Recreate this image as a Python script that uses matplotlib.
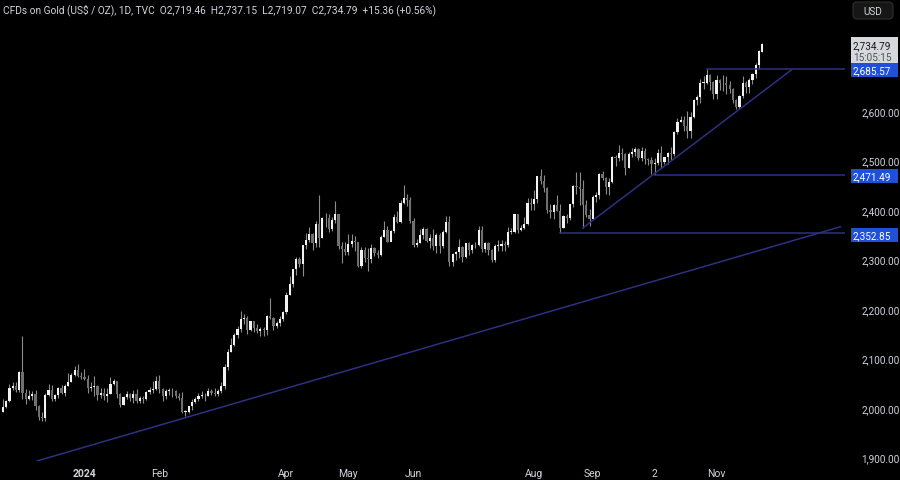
import matplotlib
matplotlib.use('Agg')
import numpy as np
import matplotlib.pyplot as plt
from matplotlib.patches import Rectangle, FancyBboxPatch
from matplotlib.transforms import IdentityTransform

# daily candles, CFDs on Gold, 24 Nov 2023 .. 21 Oct 2024 (bar index = position)
first_open = 1992.0
last_open = 2719.46

highs = [
    2018, 2017, 2048, 2052, 2052, 2075, 2146, 2039, 2036, 2034, 2036, 2006, 1991, 2030, 2048,
    2047, 2028, 2043, 2046, 2048, 2071, 2070, 2084, 2088, 2072,
    # Jan
    2079, 2066, 2052, 2064, 2046, 2040, 2040, 2040, 2062, 2059, 2054, 2031, 2025, 2034, 2030,
    2036, 2038, 2024, 2025, 2035, 2043, 2055,
    # Feb
    2065, 2066, 2041, 2039, 2040, 2040, 2036, 2031, 2032, 1996, 2005, 2019, 2023, 2031, 2034,
    2031, 2041, 2039, 2041, 2038, 2052,
    # Mar
    2088, 2119, 2141, 2152, 2165, 2195, 2189, 2185, 2175, 2174, 2169, 2164, 2163, 2188, 2223,
    2184, 2176, 2185, 2196, 2235,
    # Apr
    2266, 2281, 2305, 2305, 2330, 2354, 2365, 2354, 2378, 2431, 2385, 2394, 2392, 2385, 2418,
    2392, 2335, 2335, 2352, 2351, 2347, 2335,
    # May
    2326, 2326, 2324, 2331, 2326, 2320, 2350, 2378, 2367, 2359, 2392, 2397, 2420, 2450, 2433,
    2426, 2384, 2341, 2362, 2365, 2364, 2351, 2362,
    # Jun
    2354, 2353, 2359, 2388, 2387, 2313, 2318, 2342, 2327, 2333, 2335, 2332, 2336, 2368, 2368,
    2335, 2335, 2322, 2331, 2339,
    # Jul
    2339, 2337, 2365, 2364, 2392, 2392, 2370, 2385, 2424, 2425, 2440, 2469, 2483, 2470, 2446,
    2412, 2412, 2431, 2412, 2390, 2392, 2412, 2451,
    # Aug
    2477, 2477, 2461, 2420, 2401, 2430, 2437, 2475, 2478, 2467, 2464, 2509, 2510, 2531, 2525,
    2515, 2517, 2526, 2528, 2525, 2528, 2525,
    # Sep
    2505, 2507, 2504, 2523, 2529, 2507, 2518, 2528, 2560, 2586, 2590, 2590, 2600, 2597, 2625,
    2632, 2664, 2670, 2685.57, 2674, 2661,
    # Oct
    2673, 2664, 2672, 2670, 2660, 2646, 2625, 2633, 2670, 2660, 2666, 2676, 2696, 2722, 2737.15,
]

lows = [
    1992, 2001, 2012, 2036, 2032, 2033, 2019, 2009, 2016, 2017, 1995, 1975, 1974, 1974, 2024,
    2015, 2015, 2020, 2028, 2025, 2044, 2052, 2065, 2062, 2058,
    2057, 2030, 2035, 2024, 2016, 2021, 2017, 2013, 2029, 2047, 2020, 2002, 2006, 2019, 2015,
    2011, 2011, 2010, 2010, 2016, 2029, 2030,
    2036, 2030, 2015, 2019, 2026, 2022, 2021, 2016, 1990, 1984, 1989, 1996, 2010, 2014, 2020,
    2015, 2024, 2026, 2025, 2024, 2031,
    2039, 2077, 2114, 2125, 2142, 2154, 2170, 2150, 2155, 2154, 2152, 2146, 2146, 2147, 2179,
    2157, 2161, 2165, 2175, 2190,
    2228, 2245, 2268, 2285, 2267, 2321, 2335, 2319, 2325, 2326, 2343, 2366, 2355, 2358, 2374,
    2322, 2292, 2310, 2310, 2325, 2318, 2285,
    2282, 2294, 2277, 2292, 2307, 2303, 2307, 2346, 2335, 2337, 2354, 2373, 2374, 2411, 2407,
    2373, 2326, 2325, 2333, 2341, 2335, 2323, 2320,
    2314, 2314, 2323, 2354, 2287, 2286, 2298, 2303, 2294, 2302, 2309, 2313, 2323, 2328, 2316,
    2316, 2310, 2294, 2294, 2318,
    2318, 2318, 2326, 2352, 2353, 2353, 2357, 2361, 2370, 2400, 2400, 2414, 2453, 2437, 2393,
    2384, 2382, 2398, 2353, 2363, 2374, 2380, 2406,
    2432, 2410, 2364, 2385, 2368, 2381, 2416, 2423, 2461, 2432, 2431, 2455, 2489, 2498, 2501,
    2470, 2484, 2506, 2508, 2500, 2499, 2492,
    2490, 2472, 2471.49, 2491, 2485, 2493, 2492, 2500, 2509, 2553, 2577, 2560, 2546, 2546, 2585,
    2612, 2616, 2645, 2654, 2643, 2624,
    2625, 2642, 2640, 2635, 2636, 2615, 2604, 2603, 2626, 2636, 2636, 2655, 2667, 2685, 2719.07,
]

closes = [
    2002, 2014, 2041, 2044, 2036, 2072, 2030, 2019, 2025, 2028, 2004, 1981, 1979, 2027, 2037,
    2019, 2027, 2040, 2031, 2045, 2053, 2067, 2077, 2065, 2062,
    2058, 2041, 2043, 2045, 2027, 2030, 2024, 2029, 2049, 2055, 2028, 2006, 2023, 2029, 2021,
    2029, 2014, 2020, 2018, 2032, 2037, 2039,
    2054, 2039, 2025, 2035, 2035, 2034, 2024, 2020, 1992, 1992, 2004, 2013, 2018, 2025, 2025,
    2024, 2035, 2031, 2029, 2034, 2044,
    2083, 2114, 2128, 2148, 2159, 2179, 2182, 2158, 2175, 2162, 2155, 2160, 2157, 2186, 2181,
    2165, 2171, 2179, 2194, 2229,
    2250, 2280, 2300, 2290, 2329, 2339, 2352, 2333, 2372, 2344, 2383, 2383, 2361, 2379, 2392,
    2327, 2322, 2316, 2332, 2337, 2335, 2286,
    2320, 2303, 2301, 2323, 2314, 2309, 2346, 2360, 2336, 2358, 2386, 2376, 2415, 2425, 2420,
    2378, 2329, 2334, 2350, 2361, 2338, 2343, 2327,
    2350, 2327, 2355, 2376, 2294, 2311, 2316, 2325, 2304, 2333, 2319, 2329, 2329, 2360, 2322,
    2334, 2319, 2298, 2327, 2327,
    2332, 2330, 2356, 2356, 2392, 2359, 2364, 2371, 2415, 2411, 2422, 2469, 2459, 2445, 2400,
    2396, 2409, 2398, 2364, 2387, 2384, 2411, 2448,
    2446, 2443, 2410, 2390, 2382, 2427, 2431, 2472, 2465, 2447, 2456, 2507, 2504, 2514, 2512,
    2484, 2512, 2518, 2524, 2504, 2520, 2503,
    2500, 2493, 2495, 2516, 2497, 2506, 2516, 2512, 2558, 2578, 2582, 2569, 2559, 2587, 2622,
    2628, 2657, 2657, 2672, 2658, 2634,
    2663, 2657, 2656, 2653, 2644, 2622, 2608, 2630, 2657, 2649, 2662, 2674, 2693, 2721, 2734.79,
]

# time axis labels and the bar they sit under
tick_labels = ['2024', 'Feb', 'Apr', 'May', 'Jun', 'Aug', 'Sep', '2', 'Nov']
tick_bars = [25, 48, 87, 106, 126, 163, 181, 200, 219]
price_ticks = [1900, 2000, 2100, 2200, 2300, 2400, 2500, 2600]

# drawn lines: horizontal levels (start bar, price) and trendlines (two anchors each)
level_bars = [171, 200, 216]
level_prices = [2352.85, 2471.49, 2685.57]
long_trend_bars = [10.4, 257.0]
long_trend_prices = [1893, 2366]
short_trend_bars = [178, 242]
short_trend_prices = [2364, 2683]

header = ('CFDs on Gold (US$ / OZ), 1D, TVC  O2,719.46  H2,737.15  L2,719.07  '
          'C2,734.79  +15.36 (+0.56%)')
countdown = '15:05:15'

BG = '#000000'
TXT = '#d1d4dc'
LINE = '#2c3182'
plt.rcParams['font.family'] = ['Roboto', 'DejaVu Sans']

opens = [first_open] + closes[:-1]
opens[-1] = last_open
x = np.arange(len(closes))
o = np.array(opens)
c = np.array(closes)
up = c >= o

fig = plt.figure(figsize=(9, 4.81), dpi=100, facecolor=BG)
ax = fig.add_axes([0, 19 / 481, 845 / 900, 462 / 481])
ax.set_facecolor(BG)

# candles: wicks then bodies
ax.vlines(x, lows, highs, color='#8c8c8c', linewidth=0.8, zorder=2)
body_low = np.minimum(o, c)
body_h = np.maximum(np.abs(c - o), 1.2)
ax.bar(x[up], body_h[up], bottom=body_low[up], width=0.68, color='#f2f2f2', linewidth=0, zorder=3)
ax.bar(x[~up], body_h[~up], bottom=body_low[~up], width=0.68, color='#707070', linewidth=0, zorder=3)

xmax = 258.4
for b, p in zip(level_bars, level_prices):
    ax.plot([b, xmax], [p, p], color=LINE, linewidth=1.1, zorder=4)
ax.plot(long_trend_bars, long_trend_prices, color=LINE, linewidth=1.1, zorder=4)
ax.plot(short_trend_bars, short_trend_prices, color=LINE, linewidth=1.1, zorder=4)

ax.set_xlim(-0.9, xmax)
ax.set_ylim(1893, 2826)
for s in ax.spines.values():
    s.set_visible(False)

ax.set_xticks(tick_bars)
ax.set_xticklabels(tick_labels)
ax.get_xticklabels()[0].set_fontweight('bold')
ax.tick_params(axis='x', length=0, pad=5, labelsize=7.5, colors=TXT)

ax.yaxis.tick_right()
ax.set_yticks(price_ticks)
ax.set_yticklabels(['{:,.2f}'.format(p) for p in price_ticks])
ax.tick_params(axis='y', length=0, pad=12, labelsize=7.2, colors=TXT)

# price labels on the axis (boxes drawn in pixels next to the price's height,
# behind the axes so the label text stays on top)
px = IdentityTransform()
ytr = ax.get_yaxis_transform()


def price_px(p):
    # pixel height (from the bottom) of a price on the chart
    return ax.transData.transform((0, p))[1]


for p in level_prices:
    yp = price_px(p)
    fig.add_artist(Rectangle((851, yp - 8.4), 47, 13.6, transform=px, fc='#1e50d8', ec='none',
                             zorder=-1))
    ax.annotate('{:,.2f}'.format(p), (1.0075, p), xycoords=ytr, xytext=(1, -1.3),
                textcoords='offset points', ha='left', va='center', fontsize=7.2, color='white')

last = closes[-1]
yp = price_px(last)
fig.add_artist(Rectangle((851, yp - 18.8), 47, 25.8, transform=px, fc='#d6d8dc', ec='none',
                         zorder=-1))
ax.annotate('{:,.2f}'.format(last), (1.0075, last), xycoords=ytr, xytext=(1, -0.6),
            textcoords='offset points', ha='left', va='center', fontsize=7.2, color='#131722')
ax.annotate(countdown, (1.0075, last), xycoords=ytr, xytext=(1, -9.0),
            textcoords='offset points', ha='left', va='center', fontsize=7.2, color='#50535e')

# header and currency button
fig.text(3 / 900, 1 - 10 / 481, header, ha='left', va='center', fontsize=7.3, color=TXT)
fig.add_artist(FancyBboxPatch((853, 461), 40, 17, boxstyle='round,pad=0,rounding_size=4',
                              transform=px, fc='#161616', ec='#2e2e2e', linewidth=0.8,
                              zorder=-1))
fig.text(873 / 900, 1 - 12 / 481, 'USD', ha='center', va='center', fontsize=7.2, color=TXT)

fig.savefig('out.png', dpi=100, facecolor=BG)
